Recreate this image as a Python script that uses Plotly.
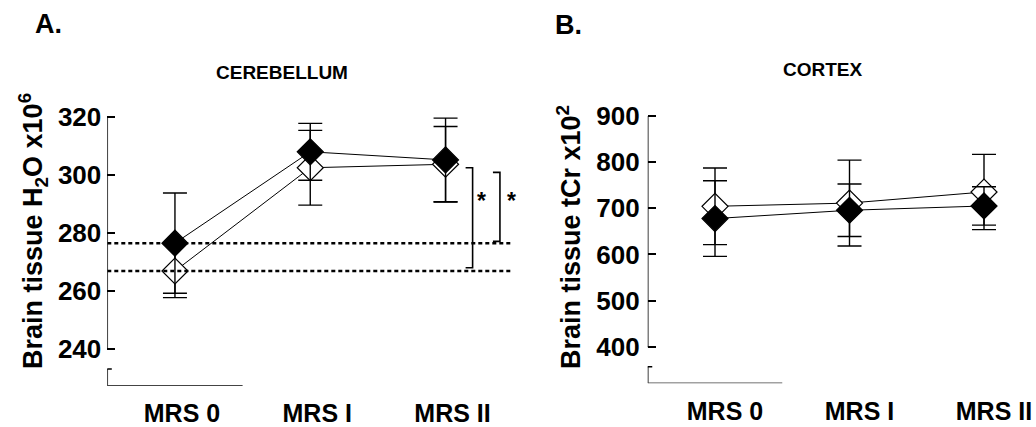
import plotly.graph_objects as go

# ---------------- data ----------------
categories = ["MRS 0", "MRS I", "MRS II"]

# Panel A: cerebellum, brain tissue H2O x10^6
cb_filled_mean = [276.5, 308.0, 305.2]
cb_filled_sd = [17.3, 9.8, 14.4]
cb_open_mean = [266.9, 302.5, 303.7]
cb_open_sd = [9.2, 12.9, 13.0]
cb_ticks = [240, 260, 280, 300, 320]
# significance brackets (top, bottom) in data units
cb_bracket_top = [302.5, 300.9]
cb_bracket_bottom = [268.0, 277.1]

# Panel B: cortex, brain tissue tCr x10^2
cx_filled_mean = [677.7, 695.7, 705.0]
cx_filled_sd = [82.0, 57.0, 41.5]
cx_open_mean = [704.3, 711.3, 735.3]
cx_open_sd = [83.0, 93.0, 81.5]
cx_ticks = [400, 500, 600, 700, 800, 900]

# ---------------- geometry ----------------
W, H = 1036, 427
FONT = "Liberation Sans, Arial, Helvetica, sans-serif"
xs = list(range(len(categories)))

# panel A
A_left, A_right, A_step = 107.3, 520.0, 135.3
A_bottom_px, A_top_px = 386.0, 100.0
A_upp = 20 / 58.0  # units per pixel
A_ymin = 240 - (A_bottom_px - 349) * A_upp
A_ymax = 320 + (117 - A_top_px) * A_upp
A_break = 240 - 20 * A_upp

# panel B
B_left, B_right, B_step = 647.75, 1036.0, 134.5
B_bottom_px, B_top_px = 383.3, 100.0
B_upp = 100 / 46.14
B_ymin = 400 - (B_bottom_px - 346.7) * B_upp
B_ymax = 900 + (116 - B_top_px) * B_upp
B_break = 400 - 20 * B_upp

fig = go.Figure()


def add_series(x, mean, sd, filled, xa, ya):
    fig.add_trace(go.Scatter(
        x=x, y=mean, xaxis=xa, yaxis=ya, mode="lines+markers",
        line=dict(color="black", width=1),
        marker=dict(symbol="diamond", size=20,
                    color="black" if filled else "white",
                    line=dict(color="black", width=1.2)),
        error_y=dict(type="data", array=sd, symmetric=True,
                     color="black", thickness=1.4, width=12),
        showlegend=False, cliponaxis=False,
    ))


add_series(xs, cb_open_mean, cb_open_sd, False, "x", "y")
add_series(xs, cb_filled_mean, cb_filled_sd, True, "x", "y")
add_series(xs, cx_open_mean, cx_open_sd, False, "x2", "y2")
add_series(xs, cx_filled_mean, cx_filled_sd, True, "x2", "y2")

axis_common = dict(showgrid=False, zeroline=False, showline=False, automargin=False)
ytickfont = dict(family=FONT, size=26, color="black", weight="bold")
xtickfont = dict(family=FONT, size=25, color="black", weight="bold")

fig.update_layout(
    width=W, height=H,
    margin=dict(l=0, r=0, t=0, b=0, autoexpand=False),
    paper_bgcolor="white", plot_bgcolor="white",
    font=dict(family=FONT, color="black"),
    xaxis=dict(domain=[A_left / W, A_right / W],
               range=[-0.5, -0.5 + (A_right - A_left) / A_step],
               tickvals=xs, ticktext=categories, ticks="",
               tickfont=xtickfont, ticklabelshift=7, ticklabelstandoff=10,
               anchor="y", **axis_common),
    yaxis=dict(domain=[1 - A_bottom_px / H, 1 - A_top_px / H],
               range=[A_ymin, A_ymax], tickvals=cb_ticks,
               ticks="inside", ticklen=8, tickwidth=1.5, tickcolor="black",
               tickfont=ytickfont, ticklabelstandoff=5,
               anchor="x", **axis_common),
    xaxis2=dict(domain=[B_left / W, B_right / W],
                range=[-0.5, -0.5 + (B_right - B_left) / B_step],
                tickvals=xs, ticktext=categories, ticks="",
                tickfont=xtickfont, ticklabelshift=10, ticklabelstandoff=11,
                anchor="y2", **axis_common),
    yaxis2=dict(domain=[1 - B_bottom_px / H, 1 - B_top_px / H],
                range=[B_ymin, B_ymax], tickvals=cx_ticks,
                ticks="inside", ticklen=8, tickwidth=1.5, tickcolor="black",
                tickfont=ytickfont, ticklabelstandoff=7,
                anchor="x2", **axis_common),
)

shapes = []


def seg(xr, yr, x0, y0, x1, y1, width=1.5, color="black", dash=None):
    ln = dict(color=color, width=width)
    if dash:
        ln["dash"] = dash
    shapes.append(dict(type="line", xref=xr, yref=yr, x0=x0, y0=y0,
                       x1=x1, y1=y1, line=ln, layer="above"))


def axes_frame(xr, yr, step, ymin, yticks, brk):
    stub = 4.5 / step
    seg(xr, yr, -0.5, yticks[0], -0.5, yticks[-1])          # y axis line
    seg(xr, yr, -0.5 - stub, yticks[0], -0.5, yticks[0])    # stub at lowest tick
    seg(xr, yr, -0.5, ymin, -0.5, brk)                      # broken part
    seg(xr, yr, -0.5 - stub, brk, -0.5 + stub, brk)         # cap of broken part
    seg(xr, yr, -0.5, ymin, 0.5, ymin, width=1.8, color="#444")  # short x axis line


axes_frame("x", "y", A_step, A_ymin, cb_ticks, A_break)
axes_frame("x2", "y2", B_step, B_ymin, cx_ticks, B_break)

# dotted reference lines at MRS 0 levels (panel A)
for v in (cb_filled_mean[0], cb_open_mean[0]):
    seg("x", "y", -0.5, v, 2.5, v, width=2.5, dash="4px,3px")

# significance brackets (panel A)
bracket_x = [2.200, 2.402]
arm = 7 / A_step
for bx, top, bot in zip(bracket_x, cb_bracket_top, cb_bracket_bottom):
    shapes.append(dict(type="path", xref="x", yref="y",
                       path=f"M {bx - arm},{top} L {bx},{top} L {bx},{bot} L {bx - arm},{bot}",
                       line=dict(color="black", width=1.6), layer="above"))

fig.update_layout(shapes=shapes)

ann = []


def text(x, y, s, size, angle=0, xref="paper", yref="paper"):
    ann.append(dict(x=x, y=y, xref=xref, yref=yref, text=s, showarrow=False,
                    textangle=angle, xanchor="center", yanchor="middle",
                    font=dict(family=FONT, size=size, color="black", weight="bold")))


text(48.7 / W, 1 - 24 / H, "A.", 27)
text(568 / W, 1 - 25 / H, "B.", 27)
text(282 / W, 1 - 73 / H, "CEREBELLUM", 19)
text(823 / W, 1 - 70 / H, "CORTEX", 19)
text(33 / W, 1 - 231 / H, "Brain tissue H<sub>2</sub>O x10<sup>6</sup>", 27, angle=-90)
text(569 / W, 1 - 237 / H, "Brain tissue tCr x10<sup>2</sup>", 27, angle=-90)
for bx in (2.269, 2.491):
    text(bx, 291.0, "*", 23, xref="x", yref="y")

fig.update_layout(annotations=ann)

fig.write_html("out.html")
